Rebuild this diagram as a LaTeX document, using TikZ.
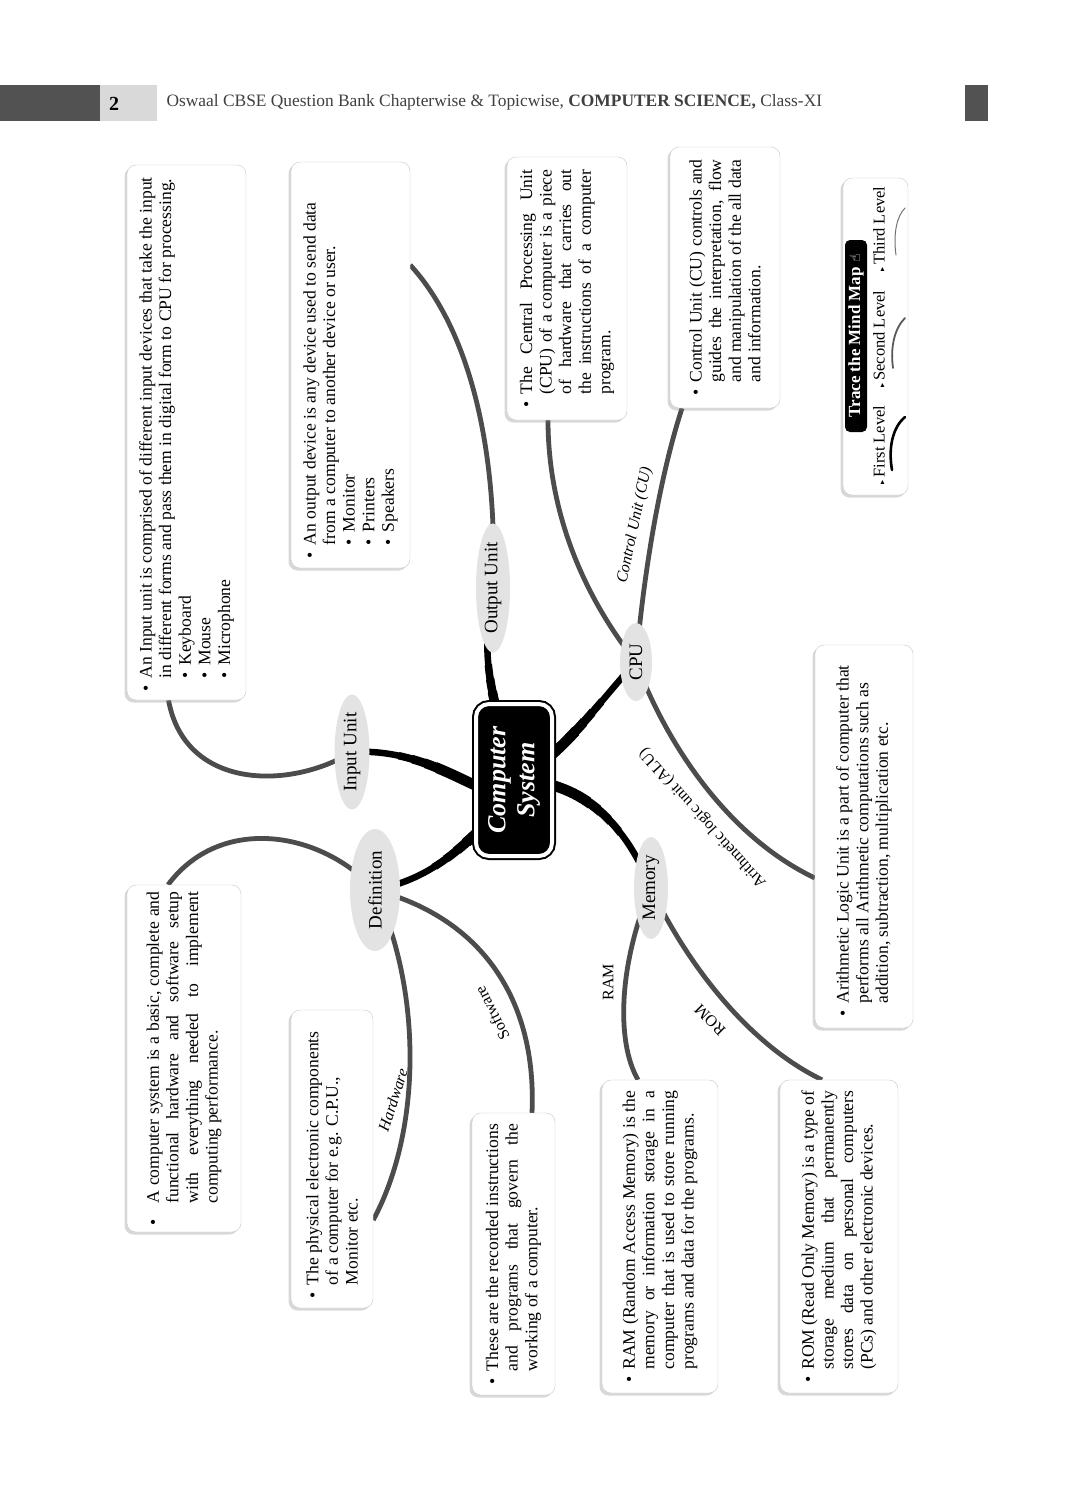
\documentclass[tikz,border=0pt]{standalone}
\usepackage{fontspec}
\setmainfont{Liberation Serif}
\newfontfamily\symfont{DejaVu Sans}
\usetikzlibrary{shapes.geometric,shadows,backgrounds}
\newcommand{\bpt}[1][13pt]{\hangindent=#1\hangafter=1\noindent\makebox[#1][l]{\textbullet}}
\newcommand{\spt}{\par\noindent\hspace*{13pt}\makebox[13pt][l]{\textbullet}}
\newcommand{\mtri}{{\symfont\fontsize{8}{8}\selectfont ▸}\,}
\newcommand{\firstlevellines}[1]{%
  \draw[black, line width=#1] (inp.center) .. controls (425,748) and (470,790) .. ([yshift=-20pt]cs.center);
  \draw[black, line width=#1] (def.center) .. controls (435,878) and (465,845) .. ([xshift=-4pt,yshift=-20pt]cs.center);
  \draw[black, line width=#1] (out.center) .. controls (478,665) and (495,700) .. (cs.center);
  \draw[black, line width=#1] (cs.center) .. controls (560,760) and (600,700) .. (cpu.center);
  \draw[black, line width=#1] (cs.center) .. controls (570,780) and (620,810) .. (mem.center);}
\begin{document}
\begin{tikzpicture}[x=1pt,y=-1pt,
  box/.style={draw=black!22, fill=white, rounded corners=9pt, rotate=90, inner sep=0pt,
    drop shadow={opacity=0.3, shadow xshift=-2.5pt, shadow yshift=-2.5pt},
    font=\fontsize{17.6}{19.6}\selectfont},
  lvlone/.style={ellipse, fill=black!11, rotate=90, inner sep=0pt, font=\fontsize{19}{22}\selectfont},
  ctwo/.style={line width=4.8pt, black!70},
  blab/.style={inner sep=1pt, font=\fontsize{16}{18}\selectfont},
  leg/.style={rotate=90, inner sep=0pt, font=\fontsize{16.5}{18}\selectfont},
]
\useasboundingbox (0,0) rectangle (1091,1500);

% header
\fill[black!68] (0,85) rectangle (100,121);
\fill[black!15] (100,85) rectangle (157,121);
\fill[black!68] (965,85) rectangle (988,121);
\node[font=\bfseries\fontsize{20}{22}\selectfont] (pg) at (114,104) {2};
\node[anchor=west, text=black!75, font=\fontsize{17.4}{19}\selectfont] (hdr) at (163,102)
  {Oswaal CBSE Question Bank Chapterwise \& Topicwise, \textbf{COMPUTER SCIENCE,} Class-XI};

% central node
\node[rotate=90, fill=black, draw=black, double=white, double distance=4pt, line width=2pt,
  rounded corners=13pt, minimum width=152pt, minimum height=76pt, text=white, align=center,
  font=\bfseries\itshape\fontsize{26}{29}\selectfont, inner sep=0pt] (cs) at (514,780) {Computer\\System};

% level one
\node[lvlone, minimum width=115pt, minimum height=35pt] (inp) at (352,752) {Input Unit};
\node[lvlone, minimum width=115pt, minimum height=34pt] (out) at (493,588) {Output Unit};
\node[lvlone, minimum width=78pt, minimum height=32pt] (cpu) at (636,662) {CPU};
\node[lvlone, minimum width=122pt, minimum height=50pt] (def) at (375,890) {Definition};
\node[lvlone, minimum width=102pt, minimum height=34pt] (mem) at (651,888) {Memory};

% boxes
\node[box, minimum width=535pt, minimum height=119pt] (inbox) at (186.5,432.5) {\begin{minipage}{518pt}
\bpt An Input unit is comprised of different input devices that take the input\\in different forms and pass them in digital form to CPU for processing.\spt Keyboard\spt Mouse\spt Microphone\end{minipage}};

\node[box, minimum width=406pt, minimum height=119pt] (outbox) at (350.5,365) {\begin{minipage}{386pt}
\bpt An output device is any device used to send data\\from a computer to another device or user.\spt Monitor\spt Printers\spt Speakers\end{minipage}};

\node[box, minimum width=263pt, minimum height=120pt] (cpubox) at (567,288.5) {\begin{minipage}{238pt}
\bpt The Central Processing Unit\linebreak (CPU) of a computer is a piece\linebreak of hardware that carries out\linebreak the instructions of a computer\linebreak program.\end{minipage}};

\node[box, minimum width=261pt, minimum height=110pt] (cubox) at (725,277.5) {\begin{minipage}{236pt}
\bpt Control Unit (CU) controls and\linebreak guides the interpretation, flow\linebreak and manipulation of the all data\linebreak and information.\end{minipage}};

\node[box, minimum width=383pt, minimum height=98pt] (alubox) at (864,836.5) {\begin{minipage}{360pt}
\bpt Arithmetic Logic Unit is a part of computer that\\performs all Arithmetic computations such as\\addition, subtraction, multiplication etc.\end{minipage}};

\node[box, minimum width=347pt, minimum height=114pt] (defbox) at (184,1058.5) {\begin{minipage}{334pt}
\bpt[22pt]A computer system is a basic, complete and\linebreak functional hardware and software setup\linebreak with everything needed to implement\linebreak computing performance.\end{minipage}};

\node[box, minimum width=298pt, minimum height=82pt] (hwbox) at (332,1159) {\begin{minipage}{278pt}
\bpt The physical electronic components\\of a computer for e.g. C.P.U.,\\Monitor etc.\end{minipage}};

\node[box, minimum width=282pt, minimum height=83pt] (swbox) at (513.5,1254) {\begin{minipage}{260pt}
\bpt These are the recorded instructions\linebreak and programs that govern the\linebreak working of a computer.\end{minipage}};

\node[box, minimum width=313pt, minimum height=116pt] (rambox) at (660,1236.5) {\begin{minipage}{292pt}
\bpt RAM (Random Access Memory) is the\linebreak memory or information storage in a\linebreak computer that is used to store running\linebreak programs and data for the programs.\end{minipage}};

\node[box, minimum width=313pt, minimum height=118pt] (rombox) at (839,1236.5) {\begin{minipage}{292pt}
\bpt ROM (Read Only Memory) is a type of\linebreak storage medium that permanently\linebreak stores data on personal computers\linebreak (PCs) and other electronic devices.\end{minipage}};

% branch labels
\node[blab, rotate=78, font=\itshape\fontsize{16}{18}\selectfont] (lcu) at (635,525) {Control Unit (CU)};
\node[blab, rotate=132] (lalu) at (703,818) {Arithmetic logic unit (ALU)};
\node[blab, rotate=72, font=\itshape\fontsize{16}{18}\selectfont] (lhw) at (393,1100) {Hardware};
\node[blab, rotate=117] (lsw) at (492,1013) {Software};
\node[blab, rotate=90] (lram) at (608,982) {RAM};
\node[blab, rotate=135] (lrom) at (710,1020) {ROM};

% legend
\node[box, minimum width=317pt, minimum height=65pt] (legend) at (875.5,336.5) {};
\node[rotate=90, fill=black, rounded corners=5pt, text=white, inner sep=0pt, minimum width=192pt, minimum height=22pt,
  font=\bfseries\fontsize{17}{19}\selectfont] (trace) at (856,336) {Trace the Mind Map {\symfont\fontsize{14}{14}\selectfont ☝}};
\node[leg] (l1) at (879,445) {\mtri First Level};
\node[leg] (l2) at (879,339) {\mtri Second Level};
\node[leg] (l3) at (879,229) {\mtri Third Level};
\draw[line width=2.6pt, black, line cap=round] (905,417) .. controls (893,427) and (888,447) .. (892,470);
\draw[line width=1.8pt, black!65, line cap=round] (905,318) .. controls (895,328) and (890,346) .. (893,368);
\draw[line width=1pt, black!55, line cap=round] (905,208) .. controls (897,216) and (893,233) .. (896,255);

% connectors
\begin{scope}[on background layer]
\fill[white] (0,0) rectangle (1091,1500);
\firstlevellines{6.5pt}
\foreach \r/\w in {118/7.5pt, 104/8.5pt, 91/9.5pt, 79/10.5pt}{
  \begin{scope}
    \clip (cs.center) circle (\r pt);
    \firstlevellines{\w}
  \end{scope}
}

\draw[ctwo] (inp.center) .. controls (290,790) and (185,790) .. ([xshift=-18pt]inbox.west);
\draw[ctwo] (out.center) .. controls (498,450) and (470,330) .. ([yshift=100pt]outbox.south);
\draw[ctwo] (cpu.center) .. controls (575,585) and (548,500) .. ([xshift=-19pt]cpubox.west);
\draw[ctwo] (cpu.center) .. controls (645,560) and (662,470) .. ([xshift=-43pt]cubox.west);
\draw[ctwo] (cpu.center) .. controls (665,740) and (725,835) .. ([yshift=-41.5pt]alubox.north);
\draw[ctwo] (def.center) .. controls (320,830) and (220,815) .. ([xshift=-16pt]defbox.east);
\draw[ctwo] (def.center) .. controls (422,990) and (422,1130) .. ([yshift=-61pt]hwbox.south);
\draw[ctwo] (def.center) .. controls (482,918) and (537,1000) .. ([xshift=18.5pt]swbox.east);
\draw[ctwo] (mem.center) .. controls (620,960) and (615,1040) .. ([xshift=-22pt]rambox.east);
\draw[ctwo] (mem.center) .. controls (680,950) and (740,1040) .. ([xshift=-17pt]rombox.east);
\end{scope}
\end{tikzpicture}
\end{document}
